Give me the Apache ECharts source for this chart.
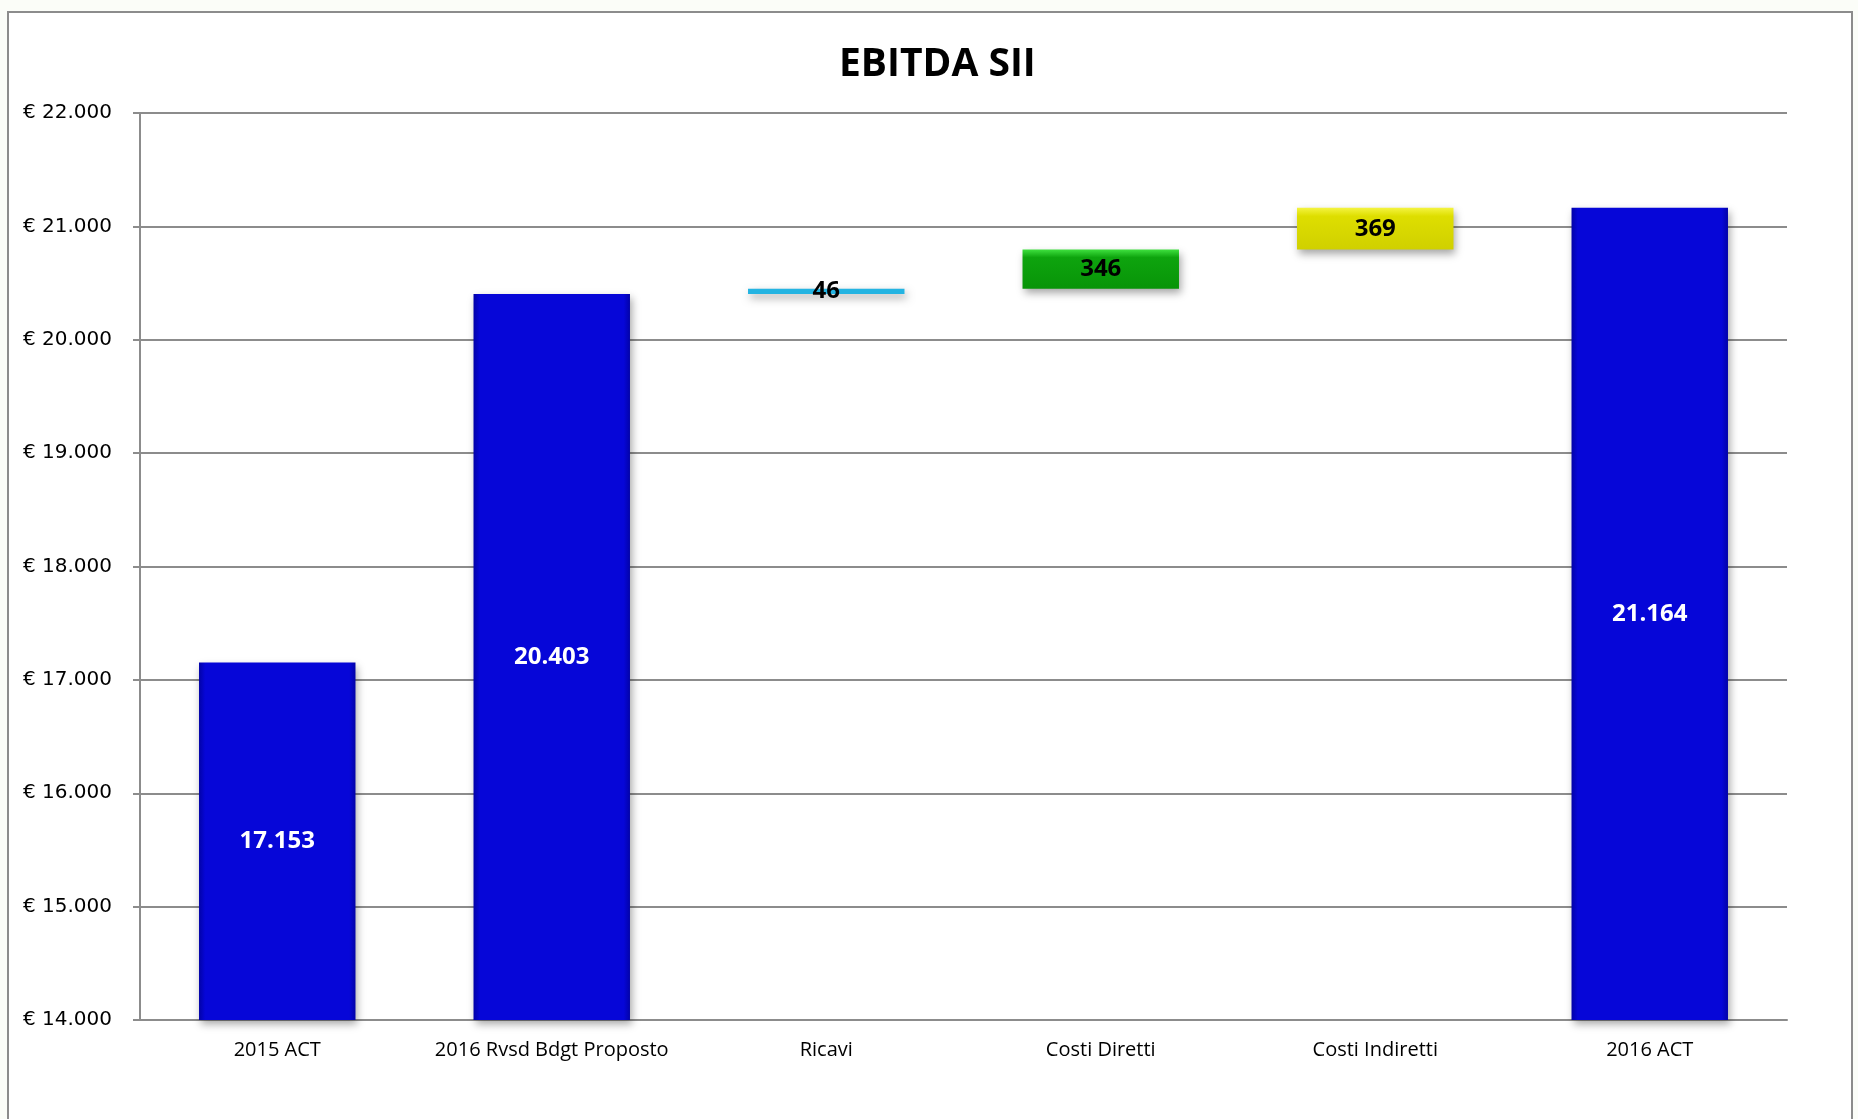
<!DOCTYPE html>
<html>
<head>
<meta charset="utf-8">
<script src="https://cdn.jsdelivr.net/npm/echarts@6/dist/echarts.min.js"></script>
<style>
  html, body { margin: 0; padding: 0; background: #fbfdf8; }
  #chart { width: 1858px; height: 1119px; }
</style>
</head>
<body>
<div id="chart"></div>
<script>
// data
const categories = ['2015 ACT', '2016 Rvsd Bdgt Proposto', 'Ricavi', 'Costi Diretti', 'Costi Indiretti', '2016 ACT'];
const totals = [17153, 20403, null, null, null, 21164];
const deltas = [null, null, 46, 346, 369, null];
const yTicks = [14000, 22000, 1000]; // min, max, step

const fmt = v => String(v).replace(/\B(?=(\d{3})+(?!\d))/g, '.');

const blue = {
  type: 'linear', x: 0, y: 0, x2: 1, y2: 0,
  colorStops: [
    { offset: 0, color: '#0202a8' }, { offset: 0.04, color: '#0606d8' },
    { offset: 0.96, color: '#0606d8' }, { offset: 1, color: '#0202a8' }
  ]
};
const vgrad = (top, mid, bot) => ({
  type: 'linear', x: 0, y: 0, x2: 0, y2: 1,
  colorStops: [{ offset: 0, color: top }, { offset: 0.2, color: mid }, { offset: 1, color: bot }]
});
const deltaColors = { 2: '#24b4e2', 3: vgrad('#3ee03e', '#0ea40e', '#089408'), 4: vgrad('#f4f440', '#dede00', '#d0d000') };

// running base for the floating bars
let run = 0;
const base = categories.map((c, i) => {
  if (totals[i] != null) { run = totals[i]; return 0; }
  const b = run; run += deltas[i]; return b;
});

const barData = categories.map((c, i) => {
  if (totals[i] != null) {
    return { value: totals[i], itemStyle: { color: blue }, label: { color: '#ffffff' } };
  }
  return { value: deltas[i], itemStyle: { color: deltaColors[i] }, label: { color: '#000000' } };
});

const chart = echarts.init(document.getElementById('chart'));
chart.setOption({
  backgroundColor: '#fbfdf8',
  animation: false,
  graphic: [
    { type: 'rect', z: -10, shape: { x: 8, y: 12, width: 1844, height: 1200 },
      style: { fill: '#ffffff', stroke: '#8c8c8c', lineWidth: 2 } }
  ],
  title: {
    text: 'EBITDA SII', left: 834, top: 40,
    textStyle: { fontFamily: 'Open Sans', fontWeight: 'bold', fontSize: 39, color: '#000' }
  },
  grid: { left: 140, right: 71, top: 113, bottom: 99 },
  xAxis: {
    type: 'category',
    data: categories,
    axisLine: { lineStyle: { color: '#8c8c8c', width: 2 } },
    axisTick: { length: 8, lineStyle: { color: '#8c8c8c', width: 2 } },
    axisLabel: { interval: 0, fontFamily: 'Open Sans', fontSize: 20, color: '#000', margin: 20 }
  },
  yAxis: {
    type: 'value',
    min: yTicks[0], max: yTicks[1], interval: yTicks[2],
    axisLine: { show: true, lineStyle: { color: '#8c8c8c', width: 2 } },
    axisTick: { show: true, length: 7, inside: false, lineStyle: { color: '#8c8c8c', width: 2 } },
    splitLine: { lineStyle: { color: '#8c8c8c', width: 2 } },
    axisLabel: {
      fontFamily: 'DejaVu Sans', fontSize: 20, color: '#000', margin: 28,
      formatter: v => '€ ' + fmt(v)
    }
  },
  series: [
    {
      type: 'bar', stack: 'w', silent: true, barWidth: '57%',
      itemStyle: { color: 'transparent' },
      data: base
    },
    {
      type: 'bar', stack: 'w', barWidth: '57%',
      itemStyle: { shadowBlur: 8, shadowOffsetX: 2, shadowOffsetY: 4, shadowColor: 'rgba(0,0,0,0.35)' },
      label: {
        show: true, position: 'inside',
        fontFamily: 'Open Sans', fontWeight: 'bold', fontSize: 24,
        formatter: p => fmt(p.value)
      },
      data: barData
    }
  ]
});
</script>
</body>
</html>
